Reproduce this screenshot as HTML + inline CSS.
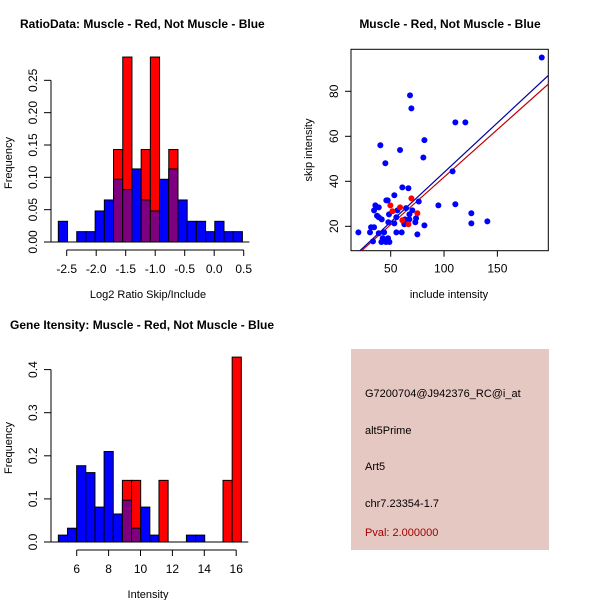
<!DOCTYPE html>
<html><head><meta charset="utf-8"><style>
html,body{margin:0;padding:0;background:#fff}
svg{display:block;font-family:"Liberation Sans",sans-serif}
</style></head><body>
<svg id="c" width="600" height="600" viewBox="0 0 600 600" xmlns="http://www.w3.org/2000/svg">
<rect x="0" y="0" width="600" height="600" fill="#fff"/>
<text x="20" y="28" font-size="12" font-weight="bold">RatioData: Muscle - Red, Not Muscle - Blue</text>
<text x="450" y="28" font-size="12" font-weight="bold" text-anchor="middle">Muscle - Red, Not Muscle - Blue</text>
<text x="10" y="329" font-size="12" font-weight="bold">Gene Itensity: Muscle - Red, Not Muscle - Blue</text>
<g id="h1"></g>
<g id="sc"></g>
<g id="h2"></g>
<g>
<rect x="351" y="349" width="198" height="201" fill="#e6c8c2"/>
<text x="365" y="397" font-size="11">G7200704@J942376_RC@i_at</text>
<text x="365" y="434" font-size="11">alt5Prime</text>
<text x="365" y="470" font-size="11">Art5</text>
<text x="365" y="507" font-size="11">chr7.23354-1.7</text>
<text x="365" y="536" font-size="11" fill="#a00000">Pval: 2.000000</text>
</g>
</svg>
<script>
// Histogram 1 data
const h1Blue = [0.032,0,0.016,0.016,0.048,0.065,0.097,0.081,0.113,0.065,0.048,0.097,0.113,0.065,0.032,0.032,0.016,0.032,0.016,0.016];
const h1Red  = [0,0,0,0,0,0,0.143,0.286,0,0.143,0.286,0,0.143,0,0,0,0,0,0,0];
const h1XTicks = [-2.5,-2.0,-1.5,-1.0,-0.5,0.0,0.5];
const h1YTicks = [0.00,0.05,0.10,0.15,0.20,0.25];
// Histogram 2 data
const h2Blue = [0.016,0.032,0.177,0.161,0.081,0.21,0.065,0.097,0.032,0.081,0.016,0,0,0,0.016,0.016,0,0,0,0];
const h2Red  = [0,0,0,0,0,0,0,0.143,0.143,0,0,0.143,0,0,0,0,0,0,0.143,0.429];
const h2XTicks = [6,8,10,12,14,16];
const h2YTicks = [0.0,0.1,0.2,0.3,0.4];
// Scatter data
const scBlueX = [191.6,68.1,69.4,110.6,120,81.6,40.3,58.75,80.6,45,108,60.9,66.6,53.4,45.9,47.2,76.3,94.7,110.6,35.6,38.8,34.4,56.3,64.4,70.3,48.4,67.5,125.6,37.2,38.8,41.6,55.3,63.4,67.5,73.8,62.2,47.8,53.4,62.8,73.1,81.6,125.6,140.6,31.6,34.4,19.7,30.6,38.8,43.8,55.3,60.3,75,42.5,47.5,33.4,41.3,45.6,48.8];
const scBlueY = [95,78.2,72.4,66.2,66.2,58.3,56,53.9,50.6,48,44.4,37.3,36.9,33.8,31.5,31.5,31,29.3,29.8,29.3,28.4,27.1,27.1,28.1,27.1,25.3,25.3,25.8,24.7,24,23.1,24,23.1,23.1,23.6,22.1,21.8,21.3,20.9,21.8,20.4,21.3,22.2,19.6,19.6,17.3,17.3,16.9,17.3,17.3,17.3,16.4,14.7,14.7,13.3,13,13,13];
const scRedX = [49.7,51.6,58.8,69.4,75,60.9,66.6];
const scRedY = [29.3,26.7,28.4,32.4,25.8,22.7,20.9];
const scXTicks = [50,100,150];
const scYTicks = [20,40,60,80];
const scBlueFit = [-0.17,0.441];
const scRedFit = [-0.45,0.423];

const NS="http://www.w3.org/2000/svg";
function mk(p,t,a){const e=document.createElementNS(NS,t);for(const k in a)e.setAttribute(k,a[k]);p.appendChild(e);return e;}

function hist(g, blue, red, x0, bw, sx, sy, xT, yT, yFmt, axX, xLab, axY0, axYMid){
  for(let i=0;i<blue.length;i++){
    const xa=sx(x0+i*bw), xb=sx(x0+(i+1)*bw);
    const b=blue[i], r=red[i], m=Math.min(b,r), M=Math.max(b,r);
    if(M<=0) continue;
    const topCol = r>b ? '#ff0000' : '#0000ff';
    let e=mk(g,'rect',{x:xa,y:sy(M),width:xb-xa,height:sy(0)-sy(M),fill:topCol,stroke:'#000','stroke-width':1});
    
    
    if(m>0){
      e=mk(g,'rect',{x:xa,y:sy(m),width:xb-xa,height:sy(0)-sy(m),fill:'#7f007f',stroke:'#000','stroke-width':1});
      
      
    }
  }
  mk(g,'line',{x1:sx(x0)-8,x2:sx(x0+blue.length*bw)+7,y1:sy(0),y2:sy(0),stroke:'#000'});
  const ax=mk(g,'g',{});
  
  
  const ay=sy(0)+8;
  mk(ax,'line',{x1:sx(xT[0]),x2:sx(xT[xT.length-1]),y1:ay,y2:ay,stroke:'#000'});
  xT.forEach(v=>{mk(ax,'line',{x1:sx(v),x2:sx(v),y1:ay,y2:ay+6,stroke:'#000'});
    const t=mk(ax,'text',{x:sx(v),y:ay+23,'font-size':12,'text-anchor':'middle'});t.textContent=(xT.some(q=>q%1!==0))?v.toFixed(1):String(v);
    
    });
  const xl=mk(g,'text',{x:axX,y:ay+48,'font-size':11,'text-anchor':'middle'});xl.textContent=xLab;
  
  
  const yx=51;
  const yg=mk(g,'g',{});
  
  
  mk(yg,'line',{x1:yx,x2:yx,y1:sy(yT[0]),y2:sy(yT[yT.length-1]),stroke:'#000'});
  yT.forEach(v=>{mk(yg,'line',{x1:yx-7,x2:yx,y1:sy(v),y2:sy(v),stroke:'#000'});
    const t=mk(yg,'text',{x:0,y:0,'font-size':12,'text-anchor':'middle',transform:`translate(${yx-14},${sy(v)}) rotate(-90)`});t.textContent=v.toFixed(yFmt);
    
    });
  const yl=mk(g,'text',{x:0,y:0,'font-size':11,'text-anchor':'middle',transform:`translate(12,${axYMid}) rotate(-90)`});yl.textContent='Frequency';
  
  
}

(function(){
  const sx=v=>66.7+(v+2.5)*59, sy=v=>242-v*646.7;
  hist(document.getElementById('h1'),h1Blue,h1Red,-2.642,0.156,sx,sy,h1XTicks,h1YTicks,2,148,'Log2 Ratio Skip/Include',0,163);
})();
(function(){
  const sx=v=>76.7+(v-6)*15.95, sy=v=>542-v*431;
  hist(document.getElementById('h2'),h2Blue,h2Red,4.85,0.5735,sx,sy,h2XTicks,h2YTicks,1,148,'Intensity',0,448);
})();
(function(){
  const g=document.getElementById('sc');
  const sx=v=>390.7+(v-50)*1.0667, sy=v=>226.3-(v-20)*2.25;
  const L=351,R=548.3,T=49.3,B=250.7;
  const cp=mk(g,'clipPath',{id:'scclip'});mk(cp,'rect',{x:L,y:T,width:R-L,height:B-T});
  mk(g,'rect',{x:L,y:T,width:R-L,height:B-T,fill:'none',stroke:'#000'});
  const vx=p=>50+(p-390.7)/1.0667;
  [[scBlueFit,'#0000a0','blue-fit-line'],[scRedFit,'#c00000','red-fit-line']].forEach(([f,c,n])=>{
    const a=vx(L),b=vx(R);
    const l=mk(g,'line',{x1:sx(a),y1:sy(f[0]+f[1]*a),x2:sx(b),y2:sy(f[0]+f[1]*b),stroke:c,'stroke-width':1.2,'clip-path':'url(#scclip)'});
    
    
  });
  scBlueX.forEach((x,i)=>{const c=mk(g,'circle',{cx:sx(x),cy:sy(scBlueY[i]),r:3,fill:'#0000ff'});
    
    });
  scRedX.forEach((x,i)=>{const c=mk(g,'circle',{cx:sx(x),cy:sy(scRedY[i]),r:3,fill:'#ff0000'});
    
    });
  scXTicks.forEach(v=>{mk(g,'line',{x1:sx(v),x2:sx(v),y1:B,y2:B+6,stroke:'#000'});
    const t=mk(g,'text',{x:sx(v),y:B+22,'font-size':12,'text-anchor':'middle'});t.textContent=v;
    
    });
  scYTicks.forEach(v=>{mk(g,'line',{x1:L-6,x2:L,y1:sy(v),y2:sy(v),stroke:'#000'});
    const t=mk(g,'text',{x:0,y:0,'font-size':12,'text-anchor':'middle',transform:`translate(${L-13},${sy(v)}) rotate(-90)`});t.textContent=v;
    
    });
  const xl=mk(g,'text',{x:449,y:298,'font-size':11,'text-anchor':'middle'});xl.textContent='include intensity';
  
  
  const yl=mk(g,'text',{x:0,y:0,'font-size':11,'text-anchor':'middle',transform:'translate(312,150) rotate(-90)'});yl.textContent='skip intensity';
  
  
})();
</script>
</body></html>
